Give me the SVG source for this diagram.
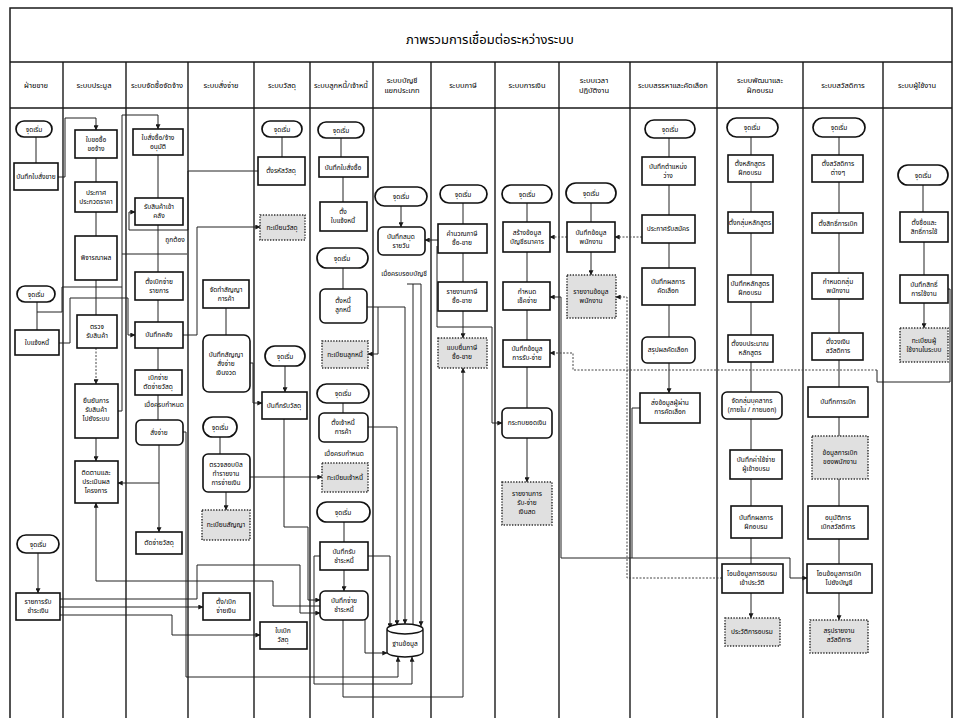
<svg xmlns="http://www.w3.org/2000/svg" width="956" height="728" viewBox="0 0 956 728">
<style>
.bg{fill:#fff}
.fr{fill:none;stroke:#1a1a1a;stroke-width:1.5}
.ln{stroke:#1a1a1a;stroke-width:1.4}
.b{fill:#fff;stroke:#111;stroke-width:1.6}
.t{fill:#fff;stroke:#111;stroke-width:1.7}
.d{fill:#e0e0e0;stroke:#333;stroke-width:1.5;stroke-dasharray:1.4 1.4}
.db{fill:#fff;stroke:#111;stroke-width:1.4}
.tx{font-family:"Noto Sans Thai","Noto Sans","DejaVu Sans",sans-serif;font-size:6.6px;fill:#000;text-anchor:middle}
.hd{font-family:"Noto Sans Thai","Noto Sans","DejaVu Sans",sans-serif;font-size:7.5px;fill:#000;text-anchor:middle}
.ttl{font-family:"Noto Sans Thai","Noto Sans","DejaVu Sans",serif;font-size:13px;fill:#000;text-anchor:middle}
.lb{font-family:"Noto Sans Thai","Noto Sans","DejaVu Sans",sans-serif;font-size:6.6px;fill:#000;text-anchor:middle}
.c{fill:none;stroke:#222;stroke-width:1}
.cd{fill:none;stroke:#444;stroke-width:1;stroke-dasharray:2 1.5}
</style>
<defs>
<marker id="a" viewBox="0 0 6 6" refX="5.6" refY="3" markerWidth="5" markerHeight="5" orient="auto"><path d="M0,0 L6,3 L0,6 z" fill="#1a1a1a"/></marker>
</defs>
<rect class="bg" x="0" y="0" width="956" height="728"/>
<g id="frame">
<path class="fr" d="M10,718 V8 H952 V718"/>
<path class="ln" d="M10,62 H952 M10,108 H952"/>
<path class="ln" d="M63,62 V718 M126,62 V718 M188,62 V718 M254,62 V718 M310,62 V718 M373,62 V718 M431,62 V718 M495,62 V718 M559,62 V718 M630,62 V718 M717,62 V718 M803,62 V718 M883,62 V718"/>
<text class="ttl" x="490" y="44">ภาพรวมการเชื่อมต่อระหว่างระบบ</text>
</g>
<g id="headers">
<text class="hd" x="36" y="88">ฝ่ายขาย</text>
<text class="hd" x="94" y="88">ระบบประมูล</text>
<text class="hd" x="157" y="88">ระบบจัดซื้อจัดจ้าง</text>
<text class="hd" x="221" y="88">ระบบสั่งจ่าย</text>
<text class="hd" x="282" y="88">ระบบวัสดุ</text>
<text class="hd" x="341" y="88">ระบบลูกหนี้/เจ้าหนี้</text>
<text class="hd" x="402" y="83">ระบบบัญชี</text>
<text class="hd" x="402" y="93">แยกประเภท</text>
<text class="hd" x="463" y="88">ระบบภาษี</text>
<text class="hd" x="527" y="88">ระบบการเงิน</text>
<text class="hd" x="594" y="83">ระบบเวลา</text>
<text class="hd" x="594" y="93">ปฏิบัติงาน</text>
<text class="hd" x="673" y="88">ระบบสรรหาและคัดเลือก</text>
<text class="hd" x="760" y="83">ระบบพัฒนาและ</text>
<text class="hd" x="760" y="93">ฝึกอบรม</text>
<text class="hd" x="843" y="88">ระบบสวัสดิการ</text>
<text class="hd" x="917" y="88">ระบบผู้ใช้งาน</text>
</g>
<g id="connectors">
<path class="c" marker-end="url(#a)" d="M36,137 V163 M37,302 V330 M38,553 V593"/>
<path class="c" marker-end="url(#a)" d="M96,158 V182 M96,212 V236 M96,280 V315 M96,438 V461"/>
<path class="cd" marker-end="url(#a)" d="M96,348 V384"/>
<path class="c" marker-end="url(#a)" d="M158,155 V198 M158,225 V272 M158,300 V322 M158,348 V370 M158,395 V420 M159,445 V532"/>
<path class="c" marker-end="url(#a)" d="M226,308 V335 M220,437 V454 M226,492 V510"/>
<path class="c" marker-end="url(#a)" d="M282,137 V157 M285,366 V392"/>
<path class="c" marker-end="url(#a)" d="M341,138 V157 M343,177 V202 M343,268 V289 M343,403 V413 M344,522 V542 M344,570 V591"/>
<path class="c" marker-end="url(#a)" d="M401,206 V227"/>
<path class="c" marker-end="url(#a)" d="M463,203 V224 M463,253 V282 M463,311 V338"/>
<path class="c" marker-end="url(#a)" d="M527,203 V222 M527,252 V282 M527,310 V340 M527,367 V408 M527,438 V482"/>
<path class="c" marker-end="url(#a)" d="M591,203 V222 M591,252 V275"/>
<path class="c" marker-end="url(#a)" d="M669,138 V157 M669,185 V215 M669,243 V268 M669,305 V337 M669,363 V393"/>
<path class="c" marker-end="url(#a)" d="M751,137 V155 M751,182 V212 M751,233 V275 M751,302 V335 M751,362 V392 M751,419 V450 M751,479 V506 M751,538 V564 M751,593 V618"/>
<path class="c" marker-end="url(#a)" d="M839,137 V155 M839,182 V213 M839,233 V273 M839,299 V333 M839,360 V387 M839,417 V436 M839,479 V506 M839,539 V564 M839,593 V620"/>
<path class="c" marker-end="url(#a)" d="M923,185 V212 M924,242 V275 M924,303 V328"/>
<path class="c" marker-end="url(#a)" d="M58,177 H65 V118 H96 V130"/>
<path class="c" marker-end="url(#a)" d="M118,411 H122 V115 H158 V129"/>
<path class="c" marker-end="url(#a)" d="M258,171 H188 V230 H129 V212 H135"/>
<path class="c" marker-end="url(#a)" d="M183,335 H197 V227 H260"/>
<path class="c" d="M37,312 H62 V287 H122 M122,254 H187"/>
<path class="c" marker-end="url(#a)" d="M59,343 H70 V298 H128 V335 H135"/>
<path class="c" marker-end="url(#a)" d="M159,483 H118"/>
<path class="c" marker-end="url(#a)" d="M183,432 H186 V677 H398 V657"/>
<path class="c" marker-end="url(#a)" d="M250,363 H253 V403 H262"/>
<path class="c" marker-end="url(#a)" d="M250,477 H322"/>
<path class="c" marker-end="url(#a)" d="M284,419 V527 H308 V600 H320"/>
<path class="c" marker-end="url(#a)" d="M320,606 H273 V581 H96 V503"/>
<path class="c" marker-end="url(#a)" d="M60,599 H197 V565 H300 V613 H320"/>
<path class="c" marker-end="url(#a)" d="M60,607 H203"/>
<path class="c" marker-end="url(#a)" d="M60,615 H172 V635 H260"/>
<path class="c" marker-end="url(#a)" d="M367,307 H405 V624"/>
<path class="c" marker-end="url(#a)" d="M378,307 V354 H368"/>
<path class="c" marker-end="url(#a)" d="M368,427 H397 V625"/>
<path class="c" marker-end="url(#a)" d="M368,556 H390 V628"/>
<path class="c" marker-end="url(#a)" d="M365,620 V653 H387"/>
<path class="c" marker-end="url(#a)" d="M320,556 H314 V684 H412 V657"/>
<path class="c" marker-end="url(#a)" d="M343,620 V697 H463 V368"/>
<path class="c" d="M407,284 H421"/>
<path class="c" marker-end="url(#a)" d="M413,284 V624 M421,284 V626"/>
<path class="c" marker-end="url(#a)" d="M438,240 H425"/>
<path class="c" marker-end="url(#a)" d="M437,246 V327 H492 V423 H502"/>
<path class="cd" marker-end="url(#a)" d="M642,237 H615"/>
<path class="cd" marker-end="url(#a)" d="M567,237 H550"/>
<path class="c" d="M640,408 H632 V558"/>
<path class="c" marker-end="url(#a)" d="M790,558 H561 V297 H550"/>
<path class="c" marker-end="url(#a)" d="M790,558 V578 H807"/>
<path class="cd" marker-end="url(#a)" d="M722,578 H627 V297 H616"/>
<path class="c" d="M948,289 H950 V382 H877 V370"/>
<path class="cd" marker-end="url(#a)" d="M877,370 H573 V353 H550"/>
</g>
<g id="lane1">
<g id="n1_1"><rect class="t" x="16" y="121" width="36" height="16" rx="8"/><text class="tx" x="34" y="131.5">จุดเริ่ม</text></g>
<g id="n1_2"><rect class="b" x="14" y="163" width="44" height="27"/><text class="tx" x="36" y="179">บันทึกใบสั่งขาย</text></g>
<g id="n1_3"><rect class="t" x="17" y="286" width="38" height="16" rx="8"/><text class="tx" x="36" y="296.5">จุดเริ่ม</text></g>
<g id="n1_4"><rect class="b" x="15" y="330" width="44" height="25"/><text class="tx" x="37" y="345">ใบแจ้งหนี้</text></g>
<g id="n1_5"><rect class="t" x="17" y="535" width="42" height="18" rx="9"/><text class="tx" x="38" y="546.5">จุดเริ่ม</text></g>
<g id="n1_6"><rect class="b" x="16" y="593" width="44" height="27"/><text class="tx" x="38" y="604">รายการรับ</text><text class="tx" x="38" y="613">ชำระเงิน</text></g>
</g>
<g id="lane2">
<g id="n2_1"><rect class="b" x="75" y="130" width="42" height="28"/><text class="tx" x="96" y="142">ใบขอซื้อ</text><text class="tx" x="96" y="151">ขอจ้าง</text></g>
<g id="n2_2"><rect class="b" x="75" y="182" width="42" height="30"/><text class="tx" x="96" y="195">ประกาศ</text><text class="tx" x="96" y="204">ประกวดราคา</text></g>
<g id="n2_3"><rect class="b" x="75" y="236" width="42" height="44"/><text class="tx" x="96" y="260">พิจารณาผล</text></g>
<g id="n2_4"><rect class="b" x="77" y="315" width="40" height="33"/><text class="tx" x="97" y="329">ตรวจ</text><text class="tx" x="97" y="338">รับสินค้า</text></g>
<g id="n2_5"><rect class="b" x="75" y="384" width="43" height="54"/><text class="tx" x="96" y="403">ยืนยันการ</text><text class="tx" x="96" y="412">รับสินค้า</text><text class="tx" x="96" y="421">ไปยังระบบ</text></g>
<g id="n2_6"><rect class="b" x="75" y="461" width="43" height="42"/><text class="tx" x="96" y="475">ติดตามและ</text><text class="tx" x="96" y="484">ประเมินผล</text><text class="tx" x="96" y="493">โครงการ</text></g>
</g>
<g id="lane3">
<g id="n3_1"><rect class="b" x="133" y="129" width="50" height="26"/><text class="tx" x="158" y="140">ใบสั่งซื้อ/จ้าง</text><text class="tx" x="158" y="149">อนุมัติ</text></g>
<g id="n3_2"><rect class="b" x="135" y="198" width="48" height="27"/><text class="tx" x="159" y="209">รับสินค้าเข้า</text><text class="tx" x="159" y="218">คลัง</text></g>
<text class="lb" x="175" y="242">ถูกต้อง</text>
<g id="n3_3"><rect class="b" x="135" y="272" width="48" height="28"/><text class="tx" x="159" y="284">ตั้งเบิกจ่าย</text><text class="tx" x="159" y="293">รายการ</text></g>
<g id="n3_4"><rect class="b" x="135" y="322" width="48" height="26"/><text class="tx" x="159" y="337">บันทึกคลัง</text></g>
<g id="n3_5"><rect class="b" x="135" y="370" width="47" height="25"/><text class="tx" x="158" y="380">เบิกจ่าย</text><text class="tx" x="158" y="389">ตัดจ่ายวัสดุ</text></g>
<text class="lb" x="164" y="407">เมื่อครบกำหนด</text>
<g id="n3_6"><rect class="b" x="136" y="420" width="47" height="25" rx="5"/><text class="tx" x="159" y="435">สั่งจ่าย</text></g>
<g id="n3_7"><rect class="b" x="136" y="532" width="46" height="22"/><text class="tx" x="159" y="545">ตัดจ่ายวัสดุ</text></g>
</g>
<g id="lane4">
<g id="n4_1"><rect class="b" x="203" y="280" width="46" height="28"/><text class="tx" x="226" y="292">จัดทำสัญญา</text><text class="tx" x="226" y="301">การค้า</text></g>
<g id="n4_2"><rect class="b" x="203" y="335" width="47" height="57" rx="6"/><text class="tx" x="226" y="357">บันทึกสัญญา</text><text class="tx" x="226" y="366">สั่งจ่าย</text><text class="tx" x="226" y="375">เงินงวด</text></g>
<g id="n4_3"><rect class="t" x="203" y="417" width="34" height="20" rx="10"/><text class="tx" x="220" y="429.5">จุดเริ่ม</text></g>
<g id="n4_4"><rect class="b" x="203" y="454" width="47" height="38" rx="5"/><text class="tx" x="226" y="467">ตรวจสอบบิล</text><text class="tx" x="226" y="476">ทำรายงาน</text><text class="tx" x="226" y="485">การจ่ายเงิน</text></g>
<g id="n4_5"><rect class="d" x="202" y="510" width="48" height="30"/><text class="tx" x="226" y="527">ทะเบียนสัญญา</text></g>
<g id="n4_6"><rect class="b" x="203" y="593" width="47" height="27"/><text class="tx" x="226" y="604">ตั้ง/เบิก</text><text class="tx" x="226" y="613">จ่ายเงิน</text></g>
</g>
<g id="lane5">
<g id="n5_1"><rect class="t" x="262" y="121" width="40" height="16" rx="8"/><text class="tx" x="282" y="131.5">จุดเริ่ม</text></g>
<g id="n5_2"><rect class="b" x="258" y="157" width="47" height="28"/><text class="tx" x="281" y="173">ตั้งรหัสวัสดุ</text></g>
<g id="n5_3"><rect class="d" x="260" y="215" width="45" height="25"/><text class="tx" x="282" y="230">ทะเบียนวัสดุ</text></g>
<g id="n5_4"><rect class="t" x="265" y="346" width="40" height="20" rx="10"/><text class="tx" x="285" y="358.5">จุดเริ่ม</text></g>
<g id="n5_5"><rect class="b" x="262" y="392" width="45" height="27"/><text class="tx" x="284" y="408">บันทึกรับวัสดุ</text></g>
<g id="n5_6"><rect class="b" x="260" y="622" width="47" height="27"/><text class="tx" x="283" y="633">ใบเบิก</text><text class="tx" x="283" y="642">วัสดุ</text></g>
</g>
<g id="lane6">
<g id="n6_1"><rect class="t" x="318" y="122" width="46" height="16" rx="8"/><text class="tx" x="341" y="132.5">จุดเริ่ม</text></g>
<g id="n6_2"><rect class="b" x="319" y="157" width="49" height="20"/><text class="tx" x="343" y="169.5">บันทึกใบสั่งซื้อ</text></g>
<g id="n6_3"><rect class="b" x="320" y="202" width="47" height="29"/><text class="tx" x="343" y="214">ตั้ง</text><text class="tx" x="343" y="223">ใบแจ้งหนี้</text></g>
<g id="n6_4"><rect class="t" x="317" y="248" width="51" height="20" rx="10"/><text class="tx" x="342" y="260.5">จุดเริ่ม</text></g>
<g id="n6_5"><rect class="b" x="320" y="289" width="47" height="34" rx="5"/><text class="tx" x="343" y="303">ตั้งหนี้</text><text class="tx" x="343" y="312">ลูกหนี้</text></g>
<g id="n6_6"><rect class="d" x="322" y="341" width="46" height="27"/><text class="tx" x="345" y="357">ทะเบียนลูกหนี้</text></g>
<g id="n6_7"><rect class="t" x="317" y="384" width="52" height="19" rx="9.5"/><text class="tx" x="343" y="396">จุดเริ่ม</text></g>
<g id="n6_8"><rect class="b" x="319" y="413" width="49" height="29" rx="5"/><text class="tx" x="343" y="425">ตั้งเจ้าหนี้</text><text class="tx" x="343" y="434">การค้า</text></g>
<text class="lb" x="344" y="456">เมื่อครบกำหนด</text>
<g id="n6_9"><rect class="d" x="322" y="463" width="46" height="29"/><text class="tx" x="345" y="480">ทะเบียนเจ้าหนี้</text></g>
<g id="n6_10"><rect class="t" x="317" y="502" width="53" height="20" rx="10"/><text class="tx" x="343" y="514.5">จุดเริ่ม</text></g>
<g id="n6_11"><rect class="b" x="320" y="542" width="48" height="28"/><text class="tx" x="344" y="554">บันทึกรับ</text><text class="tx" x="344" y="563">ชำระหนี้</text></g>
<g id="n6_12"><rect class="b" x="320" y="591" width="48" height="29" rx="5"/><text class="tx" x="344" y="603">บันทึกจ่าย</text><text class="tx" x="344" y="612">ชำระหนี้</text></g>
</g>
<g id="lane7">
<g id="n7_1"><rect class="t" x="375" y="187" width="52" height="19" rx="9.5"/><text class="tx" x="401" y="199">จุดเริ่ม</text></g>
<g id="n7_2"><rect class="b" x="378" y="227" width="47" height="28" rx="5"/><text class="tx" x="401" y="239">บันทึกสมุด</text><text class="tx" x="401" y="248">รายวัน</text></g>
<text class="lb" x="404" y="276">เมื่อครบรอบบัญชี</text>
<g id="n7_db"><path class="db" d="M387,629 V652 A18,5 0 0 0 423,652 V629 A18,5 0 0 0 387,629 A18,5 0 0 0 423,629"/><text class="tx" x="405" y="646">ฐานข้อมูล</text></g>
</g>
<g id="lane8">
<g id="n8_1"><rect class="t" x="440" y="185" width="47" height="18" rx="9"/><text class="tx" x="463" y="196.5">จุดเริ่ม</text></g>
<g id="n8_2"><rect class="b" x="438" y="224" width="49" height="29"/><text class="tx" x="462" y="236">คำนวณภาษี</text><text class="tx" x="462" y="245">ซื้อ-ขาย</text></g>
<g id="n8_3"><rect class="b" x="438" y="282" width="49" height="29"/><text class="tx" x="462" y="294">รายงานภาษี</text><text class="tx" x="462" y="303">ซื้อ-ขาย</text></g>
<g id="n8_4"><rect class="d" x="438" y="338" width="49" height="30"/><text class="tx" x="462" y="350">แบบยื่นภาษี</text><text class="tx" x="462" y="359">ซื้อ-ขาย</text></g>
</g>
<g id="lane9">
<g id="n9_1"><rect class="t" x="502" y="185" width="50" height="18" rx="9"/><text class="tx" x="527" y="196.5">จุดเริ่ม</text></g>
<g id="n9_2"><rect class="b" x="503" y="222" width="47" height="30"/><text class="tx" x="527" y="235">สร้างข้อมูล</text><text class="tx" x="527" y="244">บัญชีธนาคาร</text></g>
<g id="n9_3"><rect class="b" x="503" y="282" width="47" height="28"/><text class="tx" x="527" y="294">กำหนด</text><text class="tx" x="527" y="303">เช็คจ่าย</text></g>
<g id="n9_4"><rect class="b" x="503" y="340" width="47" height="27"/><text class="tx" x="527" y="351">บันทึกข้อมูล</text><text class="tx" x="527" y="360">การรับ-จ่าย</text></g>
<g id="n9_5"><rect class="b" x="502" y="408" width="50" height="30" rx="5"/><text class="tx" x="527" y="425">กระทบยอดเงิน</text></g>
<g id="n9_6"><rect class="d" x="502" y="482" width="50" height="43"/><text class="tx" x="527" y="496">รายงานการ</text><text class="tx" x="527" y="505">รับ-จ่าย</text><text class="tx" x="527" y="514">เงินสด</text></g>
</g>
<g id="lane10">
<g id="n10_1"><rect class="t" x="566" y="183" width="50" height="20" rx="10"/><text class="tx" x="591" y="195.5">จุดเริ่ม</text></g>
<g id="n10_2"><rect class="b" x="567" y="222" width="48" height="30"/><text class="tx" x="591" y="235">บันทึกข้อมูล</text><text class="tx" x="591" y="244">พนักงาน</text></g>
<g id="n10_3"><rect class="d" x="567" y="275" width="49" height="43"/><text class="tx" x="591" y="294">รายงานข้อมูล</text><text class="tx" x="591" y="303">พนักงาน</text></g>
</g>
<g id="lane11">
<g id="n11_1"><rect class="t" x="645" y="120" width="50" height="18" rx="9"/><text class="tx" x="670" y="131.5">จุดเริ่ม</text></g>
<g id="n11_2"><rect class="b" x="642" y="157" width="53" height="28"/><text class="tx" x="668" y="169">บันทึกตำแหน่ง</text><text class="tx" x="668" y="178">ว่าง</text></g>
<g id="n11_3"><rect class="b" x="642" y="215" width="53" height="28"/><text class="tx" x="668" y="231">ประกาศรับสมัคร</text></g>
<g id="n11_4"><rect class="b" x="642" y="268" width="53" height="37"/><text class="tx" x="668" y="284">บันทึกผลการ</text><text class="tx" x="668" y="293">คัดเลือก</text></g>
<g id="n11_5"><rect class="b" x="642" y="337" width="53" height="26" rx="5"/><text class="tx" x="668" y="352">สรุปผลคัดเลือก</text></g>
<g id="n11_6"><rect class="b" x="640" y="393" width="60" height="30"/><text class="tx" x="670" y="405">ส่งข้อมูลผู้ผ่าน</text><text class="tx" x="670" y="414">การคัดเลือก</text></g>
</g>
<g id="lane12">
<g id="n12_1"><rect class="t" x="727" y="118" width="51" height="19" rx="9.5"/><text class="tx" x="752" y="130">จุดเริ่ม</text></g>
<g id="n12_2"><rect class="b" x="728" y="155" width="45" height="27"/><text class="tx" x="750" y="166">ตั้งหลักสูตร</text><text class="tx" x="750" y="175">ฝึกอบรม</text></g>
<g id="n12_3"><rect class="b" x="728" y="212" width="45" height="21"/><text class="tx" x="750" y="225">ตั้งกลุ่มหลักสูตร</text></g>
<g id="n12_4"><rect class="b" x="728" y="275" width="45" height="27"/><text class="tx" x="750" y="286">บันทึกหลักสูตร</text><text class="tx" x="750" y="295">ฝึกอบรม</text></g>
<g id="n12_5"><rect class="b" x="728" y="335" width="45" height="27"/><text class="tx" x="750" y="346">ตั้งงบประมาณ</text><text class="tx" x="750" y="355">หลักสูตร</text></g>
<g id="n12_6"><rect class="b" x="722" y="392" width="60" height="27" rx="5"/><text class="tx" x="752" y="403">จัดกลุ่มบุคลากร</text><text class="tx" x="752" y="412">(ภายใน / ภายนอก)</text></g>
<g id="n12_7"><rect class="b" x="730" y="450" width="52" height="29"/><text class="tx" x="756" y="462">บันทึกค่าใช้จ่าย</text><text class="tx" x="756" y="471">ผู้เข้าอบรม</text></g>
<g id="n12_8"><rect class="b" x="731" y="506" width="51" height="32"/><text class="tx" x="756" y="520">บันทึกผลการ</text><text class="tx" x="756" y="529">ฝึกอบรม</text></g>
<g id="n12_9"><rect class="b" x="722" y="564" width="61" height="29"/><text class="tx" x="752" y="576">โอนข้อมูลการอบรม</text><text class="tx" x="752" y="585">เข้าประวัติ</text></g>
<g id="n12_10"><rect class="d" x="725" y="618" width="55" height="28"/><text class="tx" x="752" y="634">ประวัติการอบรม</text></g>
</g>
<g id="lane13">
<g id="n13_1"><rect class="t" x="813" y="118" width="52" height="19" rx="9.5"/><text class="tx" x="839" y="130">จุดเริ่ม</text></g>
<g id="n13_2"><rect class="b" x="812" y="155" width="51" height="27"/><text class="tx" x="838" y="166">ตั้งสวัสดิการ</text><text class="tx" x="838" y="175">ต่างๆ</text></g>
<g id="n13_3"><rect class="b" x="812" y="213" width="51" height="20"/><text class="tx" x="838" y="225.5">ตั้งสิทธิ์การเบิก</text></g>
<g id="n13_4"><rect class="b" x="812" y="273" width="51" height="26"/><text class="tx" x="838" y="284">กำหนดกลุ่ม</text><text class="tx" x="838" y="293">พนักงาน</text></g>
<g id="n13_5"><rect class="b" x="812" y="333" width="51" height="27"/><text class="tx" x="838" y="344">ตั้งวงเงิน</text><text class="tx" x="838" y="353">สวัสดิการ</text></g>
<g id="n13_6"><rect class="b" x="808" y="387" width="60" height="30"/><text class="tx" x="838" y="404">บันทึกการเบิก</text></g>
<g id="n13_7"><rect class="d" x="812" y="436" width="56" height="43"/><text class="tx" x="840" y="455">ข้อมูลการเบิก</text><text class="tx" x="840" y="464">ของพนักงาน</text></g>
<g id="n13_8"><rect class="b" x="808" y="506" width="60" height="33"/><text class="tx" x="838" y="520">อนุมัติการ</text><text class="tx" x="838" y="529">เบิกสวัสดิการ</text></g>
<g id="n13_9"><rect class="b" x="807" y="564" width="65" height="29"/><text class="tx" x="839" y="576">โอนข้อมูลการเบิก</text><text class="tx" x="839" y="585">ไปยังบัญชี</text></g>
<g id="n13_10"><rect class="d" x="810" y="620" width="58" height="33"/><text class="tx" x="839" y="633">สรุปรายงาน</text><text class="tx" x="839" y="642">สวัสดิการ</text></g>
</g>
<g id="lane14">
<g id="n14_1"><rect class="t" x="898" y="165" width="50" height="20" rx="10"/><text class="tx" x="923" y="177.5">จุดเริ่ม</text></g>
<g id="n14_2"><rect class="b" x="900" y="212" width="48" height="30"/><text class="tx" x="924" y="225">ตั้งชื่อและ</text><text class="tx" x="924" y="234">สิทธิ์การใช้</text></g>
<g id="n14_3"><rect class="b" x="900" y="275" width="48" height="28"/><text class="tx" x="924" y="287">บันทึกสิทธิ์</text><text class="tx" x="924" y="296">การใช้งาน</text></g>
<g id="n14_4"><rect class="d" x="900" y="328" width="48" height="34"/><text class="tx" x="924" y="343">ทะเบียนผู้</text><text class="tx" x="924" y="352">ใช้งานในระบบ</text></g>
</g>
</svg>
